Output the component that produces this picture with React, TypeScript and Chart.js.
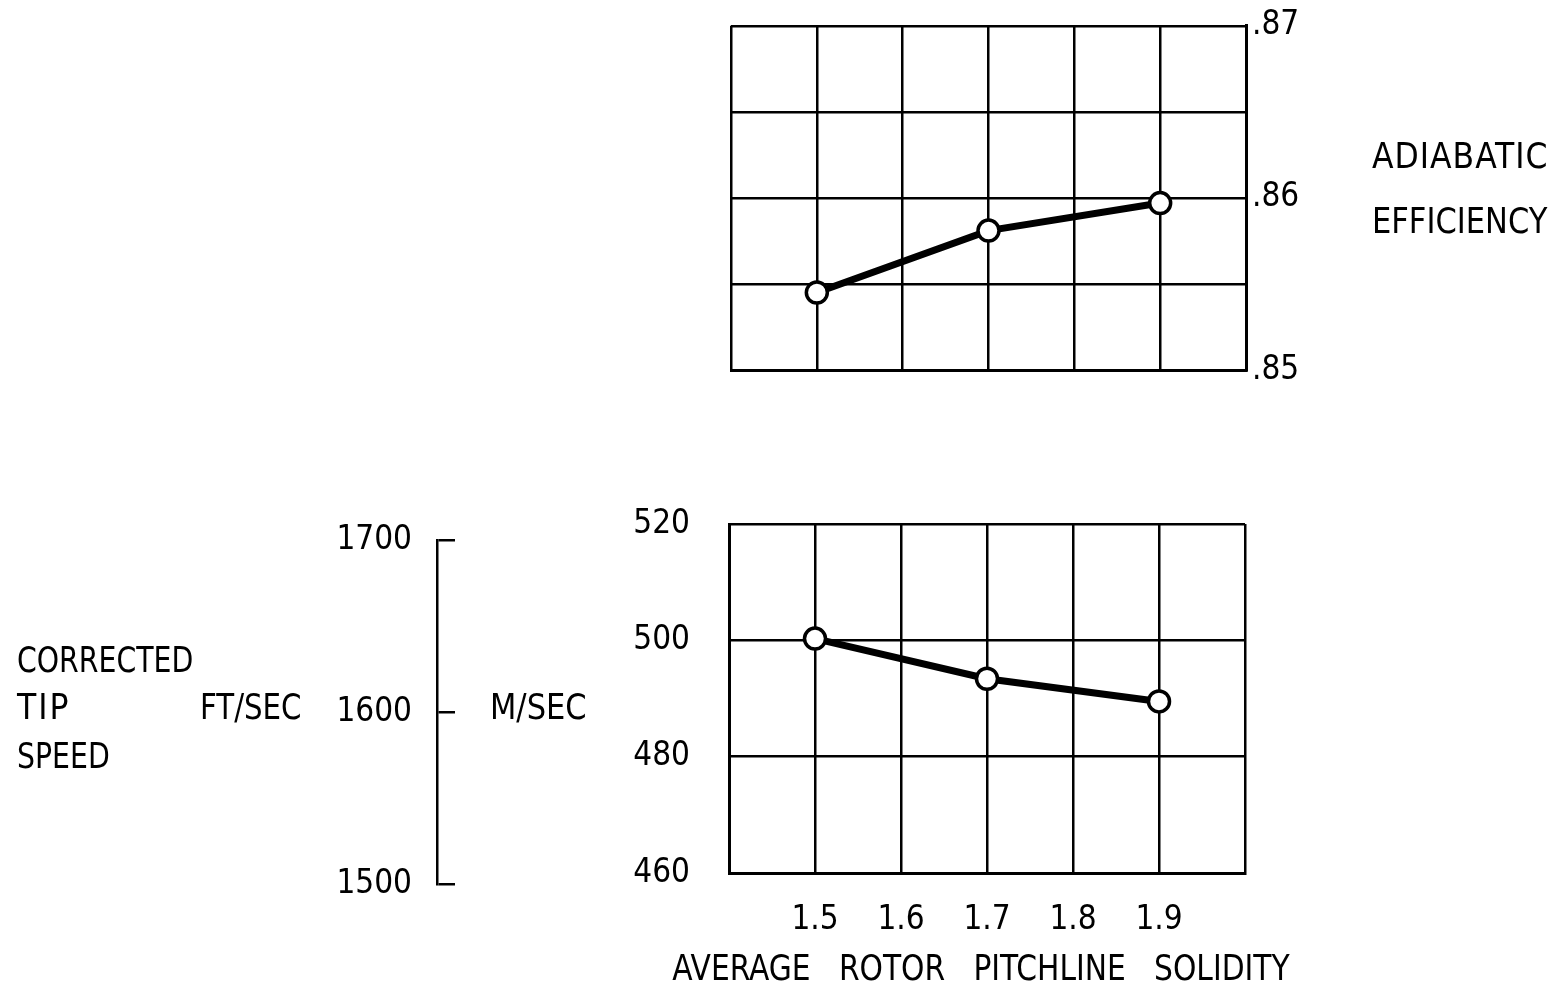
import React, { useEffect, useRef } from 'react';
import { Chart, registerables } from 'chart.js';

Chart.register(...registerables);

// ---------- data ----------
const SOLIDITY = [1.5, 1.7, 1.9];
const EFFICIENCY = [0.8545, 0.8581, 0.8597];
const TIP_SPEED_MS = [500.3, 493.4, 489.5];

const X_MIN = 1.4;
const X_MAX = 2.0;
const X_STEP = 0.1;
const X_TICK_VALUES = [1.5, 1.6, 1.7, 1.8, 1.9];
const X_TICK_LABELS = ['1.5', '1.6', '1.7', '1.8', '1.9'];

const EFF_MIN = 0.85;
const EFF_MAX = 0.87;
const EFF_STEP = 0.005;
const EFF_TICK_VALUES = [0.85, 0.86, 0.87];
const EFF_TICK_LABELS = ['.85', '.86', '.87'];

const MS_MIN = 460;
const MS_MAX = 520;
const MS_STEP = 20;
const MS_TICK_VALUES = [460, 480, 500, 520];
const MS_TICK_LABELS = ['460', '480', '500', '520'];

const FT_MIN = 1500;
const FT_MAX = 1700;
const FT_STEP = 100;
const FT_TICK_VALUES = [1500, 1600, 1700];
const FT_TICK_LABELS = ['1500', '1600', '1700'];

const X_TITLE = 'AVERAGE ROTOR PITCHLINE SOLIDITY';

// ---------- style ----------
const W = 1562;
const H = 987;
const FONT_FAMILY = "'Liberation Sans Narrow', 'DejaVu Sans Condensed', sans-serif";
const FONT_SIZE = 35;
const TICK_SIZE = 33;
const INK = '#000';

const lookup = (vals: number[], labels: string[]) => (value: number | string) => {
  const v = Number(value);
  const i = vals.findIndex((t) => Math.abs(t - v) < 1e-6);
  return i >= 0 ? labels[i] : '';
};

const gridOpts = { color: INK, lineWidth: 2.5, drawTicks: false };
const borderOpts = { color: INK, width: 3 };
const tickFont = { family: FONT_FAMILY, size: TICK_SIZE };

const lineDataset = (ys: number[]) => ({
  data: SOLIDITY.map((x, i) => ({ x, y: ys[i] })),
  borderColor: INK,
  borderWidth: 7,
  pointRadius: 10.5,
  pointBorderWidth: 3.5,
  pointBackgroundColor: '#fff',
  pointBorderColor: INK,
  tension: 0,
});

function makeTopChart(canvas: HTMLCanvasElement) {
  return new Chart(canvas, {
    type: 'line',
    data: { datasets: [lineDataset(EFFICIENCY)] },
    options: {
      responsive: false,
      animation: false,
      devicePixelRatio: 1,
      layout: { padding: { left: 731, top: 25, right: W - 1246 - 120, bottom: H - 370 } },
      plugins: { legend: { display: false }, tooltip: { enabled: false } },
      scales: {
        x: {
          type: 'linear',
          min: X_MIN,
          max: X_MAX,
          ticks: { stepSize: X_STEP, display: false },
          grid: gridOpts,
          border: borderOpts,
          afterFit: (s: any) => {
            s.height = 0;
          },
        },
        y: {
          type: 'linear',
          position: 'right',
          min: EFF_MIN,
          max: EFF_MAX,
          ticks: {
            stepSize: EFF_STEP,
            callback: lookup(EFF_TICK_VALUES, EFF_TICK_LABELS),
            padding: 6,
            color: INK,
            font: tickFont,
            autoSkip: false,
          },
          grid: gridOpts,
          border: borderOpts,
          afterFit: (s: any) => {
            s.width = 120;
          },
        },
      },
    },
  } as any);
}

function makeBottomChart(canvas: HTMLCanvasElement) {
  return new Chart(canvas, {
    type: 'line',
    data: { datasets: [lineDataset(TIP_SPEED_MS)] },
    options: {
      responsive: false,
      animation: false,
      devicePixelRatio: 1,
      layout: { padding: { left: 729 - 200, top: 524, right: W - 1245, bottom: 0 } },
      plugins: { legend: { display: false }, tooltip: { enabled: false } },
      scales: {
        x: {
          type: 'linear',
          min: X_MIN,
          max: X_MAX,
          ticks: {
            stepSize: X_STEP,
            callback: lookup(X_TICK_VALUES, X_TICK_LABELS),
            padding: 28,
            color: INK,
            font: tickFont,
            autoSkip: false,
            maxRotation: 0,
          },
          grid: gridOpts,
          border: borderOpts,
          afterFit: (s: any) => {
            s.height = H - 873;
          },
        },
        y: {
          type: 'linear',
          position: 'left',
          min: MS_MIN,
          max: MS_MAX,
          ticks: {
            stepSize: MS_STEP,
            callback: lookup(MS_TICK_VALUES, MS_TICK_LABELS),
            padding: 39,
            color: INK,
            font: tickFont,
          },
          grid: gridOpts,
          border: borderOpts,
          afterFit: (s: any) => {
            s.width = 200;
          },
        },
      },
    },
  } as any);
}

function makeFtChart(canvas: HTMLCanvasElement) {
  return new Chart(canvas, {
    type: 'scatter',
    data: { datasets: [] },
    options: {
      responsive: false,
      animation: false,
      devicePixelRatio: 1,
      layout: { padding: { left: 437 - 160, top: 540, right: W - 455, bottom: H - 884 } },
      plugins: { legend: { display: false }, tooltip: { enabled: false } },
      scales: {
        x: { type: 'linear', display: false, min: 0, max: 1 },
        y: {
          type: 'linear',
          position: 'left',
          min: FT_MIN,
          max: FT_MAX,
          ticks: {
            stepSize: FT_STEP,
            callback: lookup(FT_TICK_VALUES, FT_TICK_LABELS),
            padding: 25,
            color: INK,
            font: tickFont,
          },
          grid: { color: INK, lineWidth: 2.5, drawTicks: false },
          border: { color: INK, width: 2.5 },
          afterFit: (s: any) => {
            s.width = 160;
          },
        },
      },
    },
  } as any);
}

const canvasStyle: React.CSSProperties = {
  position: 'absolute',
  left: 0,
  top: 0,
  width: W,
  height: H,
};

type LabelProps = {
  x: number;
  cy: number;
  text: string;
  sx?: number;
  ls?: number;
  ws?: number;
  center?: boolean;
};

const Label = ({ x, cy, text, sx = 1, ls = 0, ws = 0, center = false }: LabelProps) => (
  <div
    style={{
      position: 'absolute',
      left: center ? x - 500 : x,
      width: center ? 1000 : undefined,
      textAlign: center ? 'center' : 'left',
      top: cy - 20,
      height: 40,
      lineHeight: '40px',
      fontFamily: FONT_FAMILY,
      fontSize: FONT_SIZE,
      letterSpacing: `${ls}px`,
      wordSpacing: `${ws}px`,
      color: INK,
      whiteSpace: 'pre',
      transform: `scaleX(${sx})`,
      transformOrigin: center ? 'center' : 'left',
    }}
  >
    {text}
  </div>
);

export default function App() {
  const topRef = useRef<HTMLCanvasElement>(null);
  const botRef = useRef<HTMLCanvasElement>(null);
  const ftRef = useRef<HTMLCanvasElement>(null);

  useEffect(() => {
    const charts: Chart[] = [];
    if (topRef.current) charts.push(makeTopChart(topRef.current));
    if (botRef.current) charts.push(makeBottomChart(botRef.current));
    if (ftRef.current) charts.push(makeFtChart(ftRef.current));
    return () => charts.forEach((c) => c.destroy());
  }, []);

  return (
    <div
      style={{
        position: 'absolute',
        left: 0,
        top: 0,
        width: W,
        height: H,
        overflow: 'hidden',
        background: '#fff',
      }}
    >
      <canvas ref={topRef} width={W} height={H} style={canvasStyle} />
      <canvas ref={botRef} width={W} height={H} style={canvasStyle} />
      <canvas ref={ftRef} width={W} height={H} style={canvasStyle} />
      <Label x={1372} cy={156} text="ADIABATIC" ls={1} />
      <Label x={1372} cy={221} text="EFFICIENCY" sx={0.97} />
      <Label x={17} cy={660} text="CORRECTED" sx={0.9} />
      <Label x={17} cy={707} text="TIP" ls={2} />
      <Label x={17} cy={756} text="SPEED" sx={0.9} />
      <Label x={200} cy={707} text="FT/SEC" sx={0.93} />
      <Label x={490} cy={707} text="M/SEC" sx={0.97} />
      <Label x={981} cy={968} text={X_TITLE} sx={0.944} ws={20} center />
    </div>
  );
}
